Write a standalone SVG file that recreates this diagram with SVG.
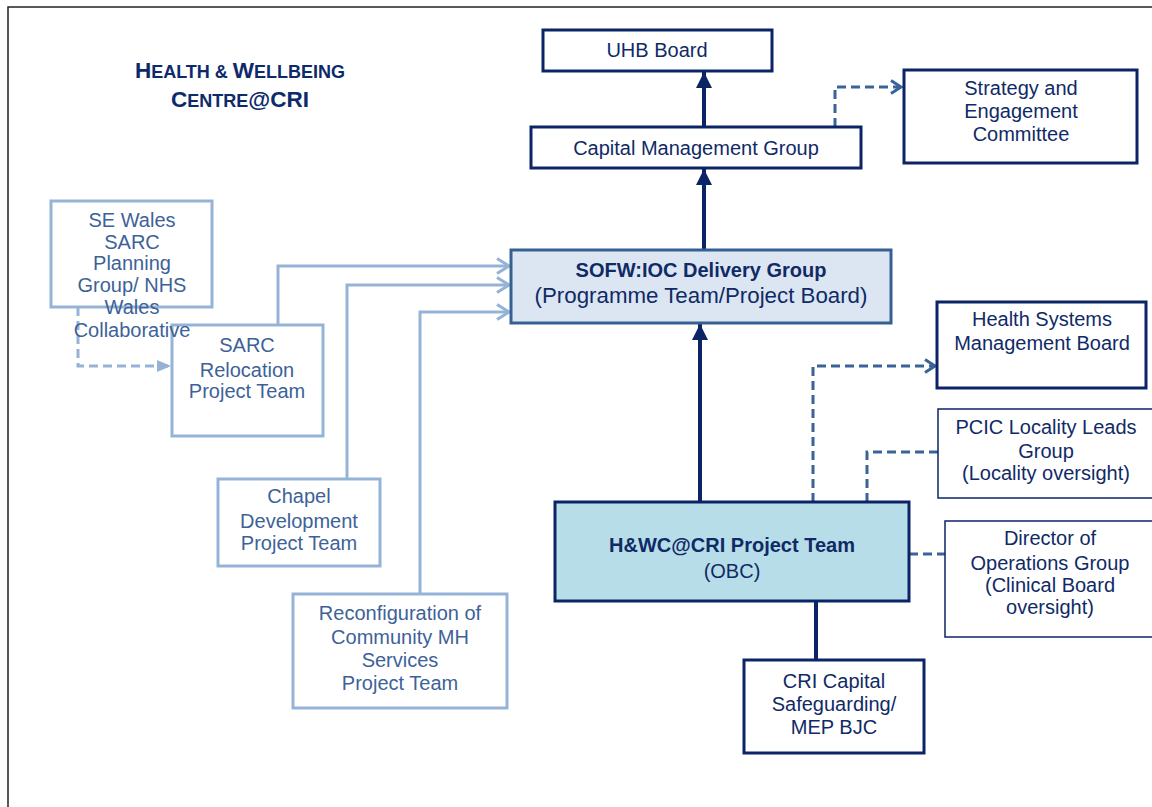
<svg xmlns="http://www.w3.org/2000/svg" width="1152" height="807" viewBox="0 0 1152 807">
<style>
  text { font-family: "Liberation Sans", Arial, sans-serif; font-size: 20px; text-anchor: middle; }
  .navyTxt { fill: #102a66; }
  .lightTxt { fill: #3d6298; }
  .navyBox { fill: #ffffff; stroke: #0b2466; stroke-width: 3; }
  .thinBox { fill: #ffffff; stroke: #0b2466; stroke-width: 1.5; }
  .lightBox { fill: #ffffff; stroke: #95b3d7; stroke-width: 3; }
  .solid { fill: none; stroke: #0b2466; stroke-width: 4; }
  .dash { fill: none; stroke: #3a6397; stroke-width: 3; stroke-dasharray: 9 5; }
  .light { fill: none; stroke: #95b3d7; stroke-width: 3; }
  .lightDash { fill: none; stroke: #95b3d7; stroke-width: 3; stroke-dasharray: 9 5; }
  .title { font-weight: bold; fill: #0d2a6b; }
  .big { font-size: 22.3px; }
</style>
<defs>
  <marker id="navyHead" markerUnits="userSpaceOnUse" markerWidth="16" markerHeight="16" viewBox="0 0 16 16" refX="16" refY="8" orient="auto">
    <path d="M0,0 L16,8 L0,16 Z" fill="#0b2466"/>
  </marker>
  <marker id="dashHead" markerUnits="userSpaceOnUse" markerWidth="14" markerHeight="16" viewBox="0 0 14 16" refX="12" refY="8" orient="auto">
    <path d="M2,1.5 L12,8 L2,14.5" fill="none" stroke="#3a6397" stroke-width="3"/>
  </marker>
  <marker id="lightHead" markerUnits="userSpaceOnUse" markerWidth="16" markerHeight="18" viewBox="0 0 16 18" refX="14" refY="9" orient="auto">
    <path d="M2,1.5 L14,9 L2,16.5" fill="none" stroke="#95b3d7" stroke-width="3"/>
  </marker>
  <marker id="lightFill" markerUnits="userSpaceOnUse" markerWidth="14" markerHeight="14" viewBox="0 0 14 14" refX="14" refY="7" orient="auto">
    <path d="M0,1 L14,7 L0,13 Z" fill="#95b3d7"/>
  </marker>
</defs>

<g id="frame">
  <path d="M8,807 L8,7 L1152,7" fill="none" stroke="#222222" stroke-width="1.5"/>
</g>

<g id="title">
  <text class="title" x="240" y="78"><tspan font-size="22.5">H</tspan><tspan font-size="18">EALTH &amp; </tspan><tspan font-size="22.5">W</tspan><tspan font-size="18">ELLBEING</tspan></text>
  <text class="title" x="240" y="107"><tspan font-size="22.5">C</tspan><tspan font-size="18">ENTRE</tspan><tspan font-size="22.5">@CRI</tspan></text>
</g>

<g id="connectors">
  <line class="solid" x1="704" y1="127" x2="704" y2="72" marker-end="url(#navyHead)"/>
  <line class="solid" x1="704" y1="249" x2="704" y2="169" marker-end="url(#navyHead)"/>
  <line class="solid" x1="700" y1="502" x2="700" y2="324" marker-end="url(#navyHead)"/>
  <line class="solid" x1="816" y1="601" x2="816" y2="659"/>
  <path class="dash" d="M835,127 L835,87 L901,87" marker-end="url(#dashHead)"/>
  <path class="dash" d="M813,502 L813,366 L935,366" marker-end="url(#dashHead)"/>
  <path class="dash" d="M938,452 L867,452 L867,502"/>
  <path class="dash" d="M909,554 L945,554"/>
  <path class="light" d="M278,325 L278,266 L509,266" marker-end="url(#lightHead)"/>
  <path class="light" d="M347,479 L347,285 L509,285" marker-end="url(#lightHead)"/>
  <path class="light" d="M420,594 L420,312 L509,312" marker-end="url(#lightHead)"/>
  <path class="lightDash" d="M78,307 L78,366 L171,366" marker-end="url(#lightFill)"/>
</g>

<g id="uhb-board">
  <rect class="navyBox" x="543" y="30" width="229" height="41"/>
  <text class="navyTxt" x="657" y="57">UHB Board</text>
</g>

<g id="capital-management-group">
  <rect class="navyBox" x="531" y="127" width="330" height="41"/>
  <text class="navyTxt" x="696" y="155">Capital Management Group</text>
</g>

<g id="strategy-engagement">
  <rect class="navyBox" x="904" y="70" width="233" height="93"/>
  <text class="navyTxt" x="1021" y="95">Strategy and</text>
  <text class="navyTxt" x="1021" y="118">Engagement</text>
  <text class="navyTxt" x="1021" y="141">Committee</text>
</g>

<g id="sofw-delivery-group">
  <rect x="511" y="250" width="380" height="73" fill="#dce6f2" stroke="#376092" stroke-width="3"/>
  <text class="navyTxt" x="701" y="277" font-weight="bold">SOFW:IOC Delivery Group</text>
  <text class="navyTxt big" x="701" y="303">(Programme Team/Project Board)</text>
</g>

<g id="sarc-relocation">
  <rect class="lightBox" x="172" y="325" width="151" height="111"/>
  <text class="lightTxt" x="247" y="352">SARC</text>
  <text class="lightTxt" x="247" y="377">Relocation</text>
  <text class="lightTxt" x="247" y="398">Project Team</text>
</g>

<g id="se-wales-sarc">
  <rect class="lightBox" x="51" y="201" width="161" height="106"/>
  <text class="lightTxt" x="132" y="227">SE Wales</text>
  <text class="lightTxt" x="132" y="249">SARC</text>
  <text class="lightTxt" x="132" y="270">Planning</text>
  <text class="lightTxt" x="132" y="292">Group/ NHS</text>
  <text class="lightTxt" x="132" y="314">Wales</text>
  <text class="lightTxt" x="132" y="337">Collaborative</text>
</g>

<g id="chapel-development">
  <rect class="lightBox" x="218" y="479" width="162" height="87"/>
  <text class="lightTxt" x="299" y="503">Chapel</text>
  <text class="lightTxt" x="299" y="528">Development</text>
  <text class="lightTxt" x="299" y="550">Project Team</text>
</g>

<g id="reconfiguration-mh">
  <rect class="lightBox" x="293" y="594" width="214" height="114"/>
  <text class="lightTxt" x="400" y="620">Reconfiguration of</text>
  <text class="lightTxt" x="400" y="644">Community MH</text>
  <text class="lightTxt" x="400" y="667">Services</text>
  <text class="lightTxt" x="400" y="690">Project Team</text>
</g>

<g id="health-systems-board">
  <rect class="navyBox" x="937" y="302" width="209" height="86"/>
  <text class="navyTxt" x="1042" y="326">Health Systems</text>
  <text class="navyTxt" x="1042" y="350">Management Board</text>
</g>

<g id="pcic-locality">
  <rect class="thinBox" x="938" y="409" width="220" height="89"/>
  <text class="navyTxt" x="1046" y="434">PCIC Locality Leads</text>
  <text class="navyTxt" x="1046" y="458">Group</text>
  <text class="navyTxt" x="1046" y="480">(Locality oversight)</text>
</g>

<g id="hwc-project-team">
  <rect x="555" y="502" width="354" height="99" fill="#b7dde8" stroke="#0b2466" stroke-width="3"/>
  <text class="navyTxt" x="732" y="552" font-weight="bold">H&amp;WC@CRI Project Team</text>
  <text class="navyTxt" x="732" y="578">(OBC)</text>
</g>

<g id="director-operations">
  <rect class="thinBox" x="945" y="521" width="215" height="116"/>
  <text class="navyTxt" x="1050" y="545">Director of</text>
  <text class="navyTxt" x="1050" y="570">Operations Group</text>
  <text class="navyTxt" x="1050" y="592">(Clinical Board</text>
  <text class="navyTxt" x="1050" y="614">oversight)</text>
</g>

<g id="cri-capital">
  <rect class="navyBox" x="744" y="660" width="180" height="93"/>
  <text class="navyTxt" x="834" y="688">CRI Capital</text>
  <text class="navyTxt" x="834" y="711">Safeguarding/</text>
  <text class="navyTxt" x="834" y="734">MEP BJC</text>
</g>
</svg>
